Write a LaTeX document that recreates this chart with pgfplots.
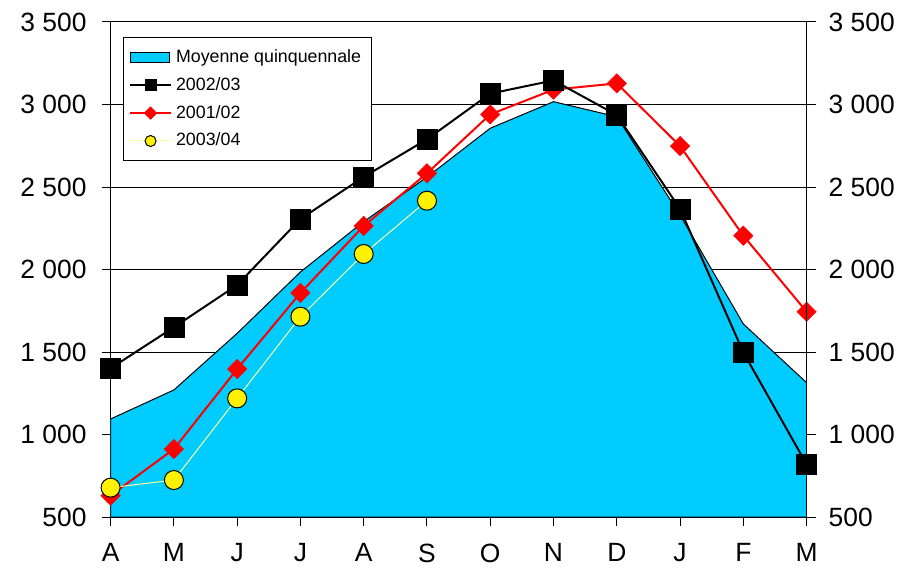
\documentclass[border=0pt]{standalone}
\usepackage{pgfplots}
\pgfplotsset{compat=1.18}
\usepackage{fontspec}
\setmainfont{Liberation Sans}
\definecolor{areacyan}{RGB}{0,204,255}
\definecolor{lightyel}{RGB}{255,255,153}
\begin{document}
\begin{tikzpicture}
\begin{axis}[
  name=main,
  scale only axis, width=348pt, height=247.5pt,
  xmin=0, xmax=11, ymin=500, ymax=3500,
  xtick={0,...,11}, xticklabels={A,M,J,J,A,S,O,N,D,J,F,M},
  ytick={500,1000,...,3500},
  yticklabels={500,1 000,1 500,2 000,2 500,3 000,3 500},
  ymajorgrids, major grid style={black, line width=0.5pt},
  axis x line*=bottom, axis y line*=left,
  x axis line style={line width=0.9pt, -},
  y axis line style={line width=0.5pt, -},
  tick align=outside, major tick length=4.5pt,
  tick style={black, line width=0.5pt},
  tick label style={font=\fontsize{13.2}{15}\selectfont},
  yticklabel style={xshift=-4pt},
  xticklabel style={yshift=-5.3pt},
  legend cell align=left,
  legend style={at={(0.0172,0.97)}, anchor=north west, draw=black, line width=0.5pt, fill=white,
    font=\fontsize{8.9}{10.5}\selectfont, row sep=2pt, inner xsep=3pt, inner ysep=4pt},
]
\addplot[draw=black, line width=0.5pt, fill=areacyan,
  legend image code/.code={\draw[draw=black, fill=areacyan, line width=0.5pt] (0pt,-2.5pt) rectangle (19.5pt,2.5pt);}]
  coordinates {(0,500)(0,1094)(1,1270)(2,1613)(3,1985)(4,2290)(5,2560)(6,2856)(7,3017)(8,2926)(9,2330)(10,1670)(11,1314)(11,500)} -- cycle;
\addlegendentry{Moyenne quinquennale}
\addlegendimage{legend image code/.code={\draw[black, line width=1pt] (0pt,0pt) -- (20.5pt,0pt); \fill[black] (7.5pt,-2.75pt) rectangle (13pt,2.75pt);}}
\addlegendentry{2002/03}
\addlegendimage{legend image code/.code={\draw[red, line width=1pt] (0pt,0pt) -- (20.5pt,0pt); \fill[red] (10.25pt,3pt) -- (13.25pt,0pt) -- (10.25pt,-3pt) -- (7.25pt,0pt) -- cycle;}}
\addlegendentry{2001/02}
\addlegendimage{legend image code/.code={\draw[lightyel, line width=0.5pt] (0pt,0pt) -- (20.5pt,0pt); \filldraw[fill=yellow, draw=black, line width=0.5pt] (10.25pt,0pt) circle (2.75pt);}}
\addlegendentry{2003/04}
% 2001/02
\addplot[forget plot, red, line width=1pt, mark=square*, mark size=3.4pt,
  mark options={rotate=45, fill=red, draw=red, line width=0.3pt}]
  coordinates {(0,630)(1,912)(2,1397)(3,1858)(4,2264)(5,2583)(6,2940)(7,3090)(8,3128)(9,2748)(10,2205)(11,1744)};
% 2002/03
\addplot[forget plot, black, line width=1pt, mark=square*, mark size=5pt,
  mark options={fill=black, draw=black, line width=0.3pt}]
  coordinates {(0,1401)(1,1650)(2,1906)(3,2306)(4,2561)(5,2789)(6,3066)(7,3146)(8,2936)(9,2367)(10,1498)(11,819)};
% 2003/04
\addplot[forget plot, lightyel, line width=0.5pt, mark=*, mark size=4.75pt,
  mark options={fill=yellow, draw=black, line width=0.5pt}]
  coordinates {(0,678)(1,724)(2,1219)(3,1714)(4,2094)(5,2417)};
\end{axis}
\begin{axis}[
  scale only axis, width=348pt, height=247.5pt,
  xmin=0, xmax=11, ymin=500, ymax=3500,
  axis x line=none, axis y line*=right,
  y axis line style={line width=0.5pt, -},
  ytick={500,1000,...,3500},
  yticklabels={500,1 000,1 500,2 000,2 500,3 000,3 500},
  tick align=outside, major tick length=4.5pt,
  tick style={black, line width=0.5pt},
  tick label style={font=\fontsize{13.2}{15}\selectfont},
  yticklabel style={xshift=3pt},
]
\addplot[draw=none, forget plot] coordinates {(0,500)(11,3500)};
\end{axis}
\pgfresetboundingbox
\path[use as bounding box] ([shift={(-55.3pt,-25.5pt)}]main.south west) rectangle ([shift={(53.2pt,11pt)}]main.north east);
\end{tikzpicture}
\end{document}
